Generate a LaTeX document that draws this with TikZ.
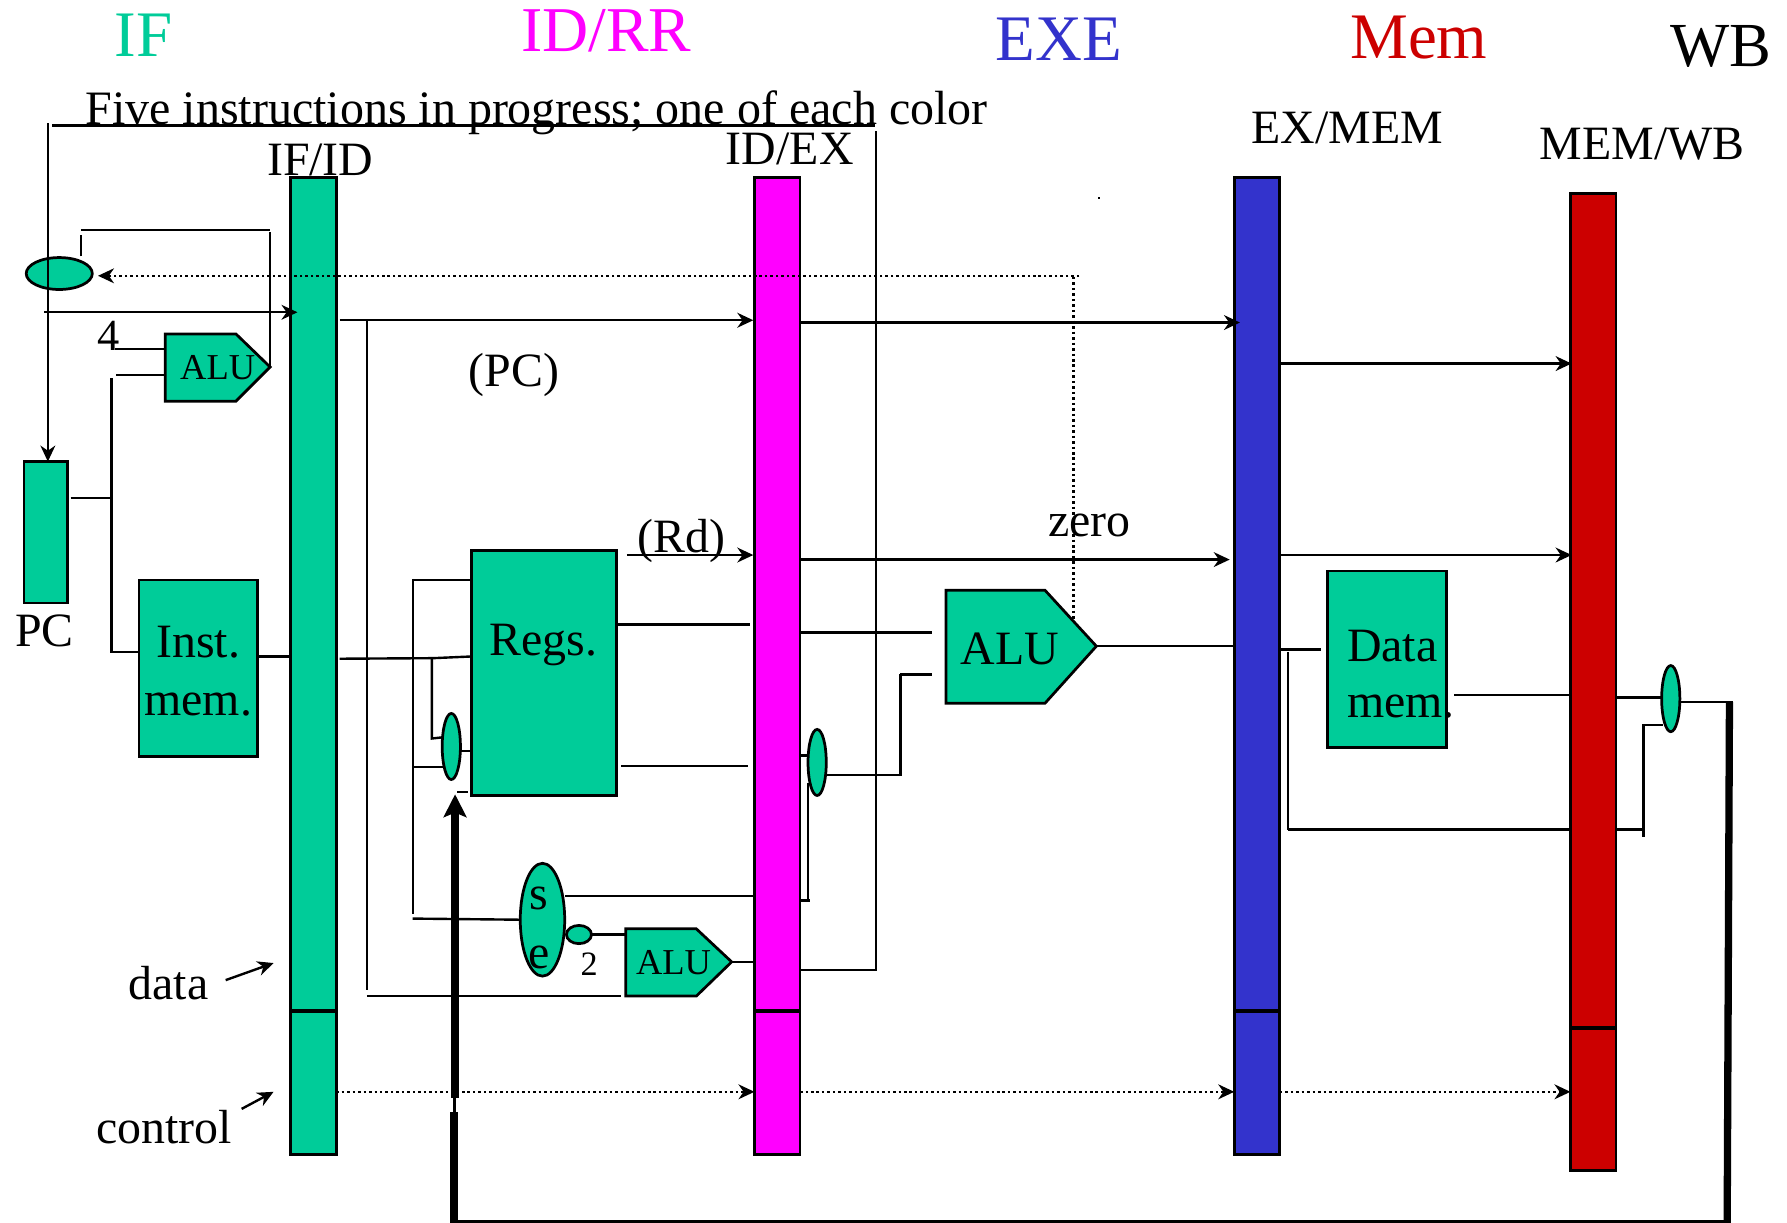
\documentclass[tikz,border=0pt]{standalone}
\usepackage{fontspec}
\setmainfont{Liberation Serif}
\usetikzlibrary{arrows.meta,shapes.geometric}
\definecolor{unitgreen}{RGB}{0,204,153}
\definecolor{exeblue}{RGB}{51,51,204}
\definecolor{memred}{RGB}{204,0,0}
\definecolor{idpink}{RGB}{255,0,255}
\newcommand{\fs}[1]{\fontsize{#1}{#1}\selectfont}
\tikzset{
  x=1pt,y=-1pt,
  wire/.style={line width=2.1pt,line cap=butt},
  thinwire/.style={line width=1.8pt},
  arr/.style={wire,-{Stealth[length=14pt,width=13pt,inset=4.5pt]}},
  dots/.style={line width=2.2pt,dash pattern=on 2.2pt off 2.6pt},
  dotarr/.style={dots,-{Stealth[length=14pt,width=13pt,inset=4.5pt]}},
  thick wire/.style={line width=6.4pt},
  bar/.style={draw=black,line width=2.4pt,minimum width=40pt,inner sep=0pt,outer sep=0pt,anchor=north west},
  unit/.style={draw=black,fill=unitgreen,line width=2.4pt,inner sep=0pt,outer sep=0pt},
  box/.style={unit,rectangle,anchor=north west},
  mux/.style={unit,ellipse},
  lbl/.style={inner sep=0pt,outer sep=0pt,align=center,text=black},
  big/.style={lbl,font=\fs{42}},
  head/.style={lbl,font=\fs{57}},
  small/.style={lbl,font=\fs{32}},
}
\begin{document}
\begin{tikzpicture}
\useasboundingbox (0,0) rectangle (1568,1073);

% headings
\node[head,text=unitgreen] (hIF) at (126,31) {IF};
\node[head,text=idpink,font=\fs{56}] (hID) at (532,27) {ID/RR};
\node[head,text=exeblue] (hEXE) at (929,34) {EXE};
\node[head,text=memred] (hMem) at (1245,33) {Mem};
\node[head,font=\fs{55}] (hWB) at (1510,41) {WB};
\node[big,anchor=base west,font=\fs{42.1}] (five) at (75,109) {Five instructions in progress; one of each color};
\node[big,anchor=base] (lIFID) at (281,154) {IF/ID};
\node[big,anchor=base] (lIDEX) at (693,144) {ID/EX};
\node[big,anchor=base] (lEXMEM) at (1182,126) {EX/MEM};
\node[big,anchor=base] (lMEMWB) at (1441,140) {MEM/WB};
\node[inner sep=0pt,minimum size=2pt,fill=black] (speck) at (964,174) {};

% pipeline registers
\node[bar,fill=unitgreen,minimum height=857pt] (ifid) at (255,156) {};
\node[bar,fill=idpink,minimum height=857pt] (idex) at (662,156) {};
\node[bar,fill=exeblue,minimum height=857pt] (exmem) at (1083,156) {};
\node[bar,fill=memred,minimum height=857pt] (memwb) at (1378,170) {};
\draw[line width=3.4pt] (ifid.west |- 0,887) -- (ifid.east |- 0,887);
\draw[line width=3.4pt] (idex.west |- 0,887) -- (idex.east |- 0,887);
\draw[line width=3.4pt] (exmem.west |- 0,887) -- (exmem.east |- 0,887);
\draw[line width=3.4pt] (memwb.west |- 0,902) -- (memwb.east |- 0,902);

% functional units
\node[box,minimum width=38pt,minimum height=124pt] (pc) at (21,405) {};
\node[big,anchor=base] (lPC) at (39,567) {PC};
\node[box,minimum width=104pt,minimum height=155pt] (imem) at (122,509) {};
\node[big,anchor=base] (imemA) at (174,577) {Inst.};
\node[big,anchor=base] (imemB) at (174,628) {mem.};
\node[box,minimum width=127pt,minimum height=215pt] (regs) at (414,483) {};
\node[big,anchor=base] (regsT) at (477,575) {Regs.};
\node[box,minimum width=104pt,minimum height=155pt] (dmem) at (1165,501) {};
\node[big,anchor=base west] (dmemA) at (1182,580) {Data};
\node[big,anchor=base west] (dmemB) at (1182,630) {mem.};

% adders / ALUs
\coordinate (aluAtip) at (237,322);
\draw[unit] (145,293) -- (207,293) -- (aluAtip) -- (207,352) -- (145,352) -- cycle;
\node[small] (aluA) at (191,323) {ALU};
\coordinate (aluBtip) at (642,844);
\draw[unit] (549,815) -- (611,815) -- (aluBtip) -- (611,874) -- (549,874) -- cycle;
\node[small] (aluB) at (591,845) {ALU};
\coordinate (aluCtip) at (962,567);
\draw[unit] (830,518) -- (917,518) -- (aluCtip) -- (917,617) -- (830,617) -- cycle;
\node[big] (aluC) at (886,569) {ALU};

% multiplexers, sign extend, shift
\node[mux,minimum width=58pt,minimum height=28pt] (muxPC) at (52,240) {};
\node[mux,minimum width=16pt,minimum height=58pt] (muxR) at (396,655) {};
\node[mux,minimum width=16pt,minimum height=58pt] (muxE) at (717,669) {};
\node[mux,minimum width=16pt,minimum height=58pt] (muxW) at (1466,613) {};
\node[mux,minimum width=39pt,minimum height=99pt] (se) at (476,807) {};
\node[big] (seS) at (473,788) {s};
\node[big] (seE) at (473,840) {e};
\node[mux,minimum width=22pt,minimum height=16pt] (shift) at (508,820) {};
\node[lbl,font=\fs{30}] (two) at (517,846) {2};
\node[lbl,font=\fs{39}] (four) at (95,295) {4};

% free text
\node[big] (tPC) at (451,329) {(PC)};
\node[big] (tRd) at (598,475) {(Rd)};
\node[big] (tzero) at (956,461) {zero};
\node[big] (tdata) at (148,863) {data};
\node[big] (tcontrol) at (144,989) {control};

% named free ends
\coordinate (jTopL) at (46,110);
\coordinate (jTopR) at (768,110);
\coordinate (jUpTop) at (768.5,115);
\coordinate (jUpBot) at (768.5,851);
\coordinate (jPCdrop) at (42,108);
\coordinate (jBus) at (322,281);
\coordinate (jBusBot) at (322,869);

% PC update loop
\draw[wire] (jTopL) -- (jTopR);
\draw[wire] (jUpTop) -- (jUpBot) -- (idex.east |- jUpBot);
\draw[arr] (jPCdrop) -- (pc.north -| jPCdrop);
\draw[wire] (71,225) -- (71,206);
\draw[wire] (71,202) -- (237,202);
\draw[wire] (237,204) -- (aluAtip);
\draw[dotarr] (947,242) -- (86,242);
\draw[dots] (942,243) -- (942,545);
\draw[arr] (39,274) -- (261,274);
\draw[wire] (101,306) -- (145,306);
\draw[wire] (102,329) -- (145,329);
\draw[wire] (98,332) -- (98,572) -- (imem.west |- 0,572);
\draw[wire] (62,437) -- (98,437);
\draw[wire] (imem.east |- 0,576) -- (ifid.west |- 0,576);

% IF/ID to ID/EX
\draw[arr] (298,281) -- (661,281);
\draw[thinwire] (jBus) -- (jBusBot);
\draw[wire] (322,874) -- (545,874);
\draw[wire] (298,578) -- (380,577.5) -- (regs.west |- 0,576);
\draw[thinwire] (362,508) -- (362,802);
\draw[wire] (362,509) -- (regs.west |- 0,509);
\draw[wire] (379,577) -- (379,648) -- (388,647);
\draw[wire] (362,673) -- (389,673);
\draw[wire] (muxR.east |- 0,659) -- (regs.west |- 0,659);
\draw[wire] (401,695) -- (411,695);
\draw[wire] (362,806) -- (se.west);
\draw[wire] (496,786) -- (idex.west |- 0,786);
\draw[wire] (shift.east) -- (549,820);
\draw[wire] (aluBtip) -- (aluBtip -| idex.west);
\draw[arr] (550,487) -- (661,487);
\draw[wire] (regs.east |- 0,548) -- (658,548);
\draw[wire] (545,672) -- (656,672);

% ID/EX to EX/MEM
\draw[arr] (idex.east |- 0,283) -- (1088,283);
\draw[arr] (idex.east |- 0,491) -- (1079,491);
\draw[wire] (idex.east |- 0,555) -- (818,555);
\draw[wire] (idex.east |- 0,663) -- (muxE.west |- 0,663);
\draw[wire] (muxE.east |- 0,680) -- (790,680);
\draw[wire] (790,681) -- (790,591);
\draw[wire] (790,592) -- (818,592);
\draw[thinwire] (709,687) -- (709,790);
\draw[wire] (idex.east |- 0,790) -- (711,790);
\draw[wire] (aluCtip) -- (aluCtip -| exmem.west);

% EX/MEM to MEM/WB
\draw[arr] (exmem.east |- 0,319) -- (1379,319);
\draw[arr] (exmem.east |- 0,487) -- (1379,487);
\draw[wire] (exmem.east |- 0,570) -- (1159,570);
\draw[thinwire] (1130,572) -- (1130,728);
\draw[wire] (1130,728) -- (memwb.west |- 0,728);
\draw[wire] (1276,610) -- (memwb.west |- 0,610);
\draw[wire] (memwb.east |- 0,612) -- (1459,612);
\draw[wire] (memwb.east |- 0,728) -- (1442,728);
\draw[wire] (1442,734) -- (1442,636) -- (1459,636);
\draw[wire] (1474,616) -- (1521,616);

% write-back bus
\coordinate (wbTop) at (1517.5,616);
\coordinate (wbBot) at (1515.5,1073);
\coordinate (wbL) at (398.3,1071.5);
\coordinate (wbBreakA) at (398.8,976);
\coordinate (wbBreakB) at (398.8,963);
\draw[thick wire] (wbTop) -- (wbBot);
\draw[line width=2.6pt] (wbBot |- wbL) -- (wbL);
\draw[thick wire] (wbL |- 0,1073) -- (wbL |- wbBreakA);
\draw[line width=2.4pt] (wbBreakA) -- (wbBreakB);
\draw[thick wire,-{Stealth[length=20pt,width=20pt,inset=4pt]}] (399.3,963) -- (399.3,697);

% control pipeline
\draw[dotarr] (ifid.east |- 0,958) -- (662,958);
\draw[dotarr] (idex.east |- 0,958) -- (1083,958);
\draw[dotarr] (exmem.east |- 0,958) -- (1378,958);

% data / control pointers
\draw[arr] (198,860) -- (240,845);
\draw[arr] (212,973) -- (240,958);
\end{tikzpicture}
\end{document}
